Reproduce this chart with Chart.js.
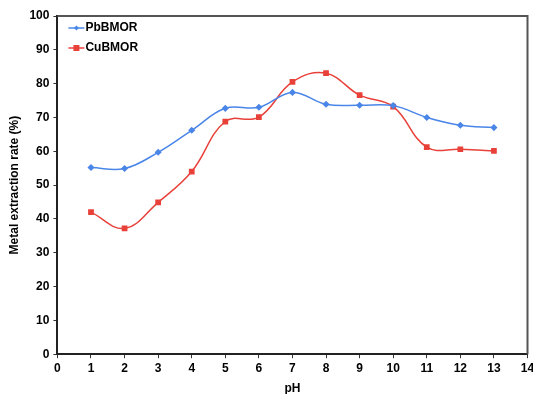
<!DOCTYPE html>
<html>
<head>
<meta charset="utf-8">
<script src="https://cdn.jsdelivr.net/npm/chart.js@4"></script>
<style>
  html, body { margin: 0; padding: 0; background: #fff; }
  #wrap { width: 533px; height: 394px; }
</style>
</head>
<body>
<div id="wrap"><canvas id="chart"></canvas></div>
<script>
// pH values and extraction rates
const phValues = [1, 2, 3, 4, 5, 6, 7, 8, 9, 10, 11, 12, 13];
const pbRates = [55.2, 54.9, 59.7, 66.2, 72.7, 73.0, 77.4, 73.9, 73.6, 73.5, 70.0, 67.7, 67.0];
const cuRates = [42.0, 37.2, 44.9, 54.0, 68.8, 70.1, 80.5, 83.1, 76.6, 73.2, 61.2, 60.6, 60.1];
const seriesNames = ['PbBMOR', 'CuBMOR'];

const FONT = 'Liberation Sans, Arial, sans-serif';

// border box on top/right + legend inside plot area
const framePlugin = {
    id: 'frame',
    afterDraw(chart) {
        const { ctx, chartArea } = chart;
        ctx.save();
        ctx.strokeStyle = '#555';
        ctx.lineWidth = 2;
        ctx.beginPath();
        ctx.moveTo(chartArea.left, chartArea.top);
        ctx.lineTo(chartArea.right, chartArea.top);
        ctx.lineTo(chartArea.right, chartArea.bottom);
        ctx.stroke();

        // legend
        chart.data.datasets.forEach((ds, i) => {
            const y = chartArea.top + 12 + i * 20;
            const x0 = chartArea.left + 11;
            ctx.strokeStyle = ds.borderColor;
            ctx.lineWidth = 1.5;
            ctx.beginPath();
            ctx.moveTo(x0, y);
            ctx.lineTo(x0 + 16, y);
            ctx.stroke();
            ctx.fillStyle = ds.borderColor;
            if (ds.pointStyle === 'rect') {
                ctx.fillRect(x0 + 5, y - 3, 6, 6);
            } else {
                ctx.beginPath();
                ctx.moveTo(x0 + 8, y - 2.5);
                ctx.lineTo(x0 + 10.5, y);
                ctx.lineTo(x0 + 8, y + 2.5);
                ctx.lineTo(x0 + 5.5, y);
                ctx.closePath();
                ctx.fill();
            }
            ctx.fillStyle = '#000';
            ctx.font = 'bold 12px ' + FONT;
            ctx.textBaseline = 'middle';
            ctx.fillText(ds.label, x0 + 17, y);
        });
        ctx.restore();
    }
};

const ctx = document.getElementById('chart').getContext('2d');
new Chart(ctx, {
    type: 'line',
    data: {
        datasets: [
            {
                label: seriesNames[0],
                data: phValues.map((x, i) => ({ x: x, y: pbRates[i] })),
                borderColor: '#4a86e8',
                backgroundColor: '#4a86e8',
                borderWidth: 1.5,
                pointStyle: 'rectRot',
                pointRadius: 2.5,
                tension: 0.4
            },
            {
                label: seriesNames[1],
                data: phValues.map((x, i) => ({ x: x, y: cuRates[i] })),
                borderColor: '#e8413a',
                backgroundColor: '#e8413a',
                borderWidth: 1.5,
                pointStyle: 'rect',
                pointRadius: 3,
                tension: 0.4
            }
        ]
    },
    options: {
        responsive: true,
        maintainAspectRatio: false,
        animation: false,
        layout: { padding: { top: 16, right: 4, bottom: 0, left: 7 } },
        scales: {
            x: {
                type: 'linear',
                min: 0,
                max: 14,
                // let the "14" label run off the edge like the original
                afterFit(scale) { scale.paddingRight = 0; },
                grid: {
                    drawOnChartArea: false,
                    tickLength: 4,
                    tickColor: '#333'
                },
                border: { color: '#222', width: 2 },
                ticks: {
                    stepSize: 1,
                    color: '#000',
                    font: { family: FONT, size: 12, weight: 'bold' },
                    padding: 3
                },
                title: {
                    display: true,
                    text: 'pH',
                    color: '#000',
                    font: { family: FONT, size: 12, weight: 'bold' },
                    padding: { top: 3, bottom: -2 }
                }
            },
            y: {
                min: 0,
                max: 100,
                grid: {
                    drawOnChartArea: false,
                    tickLength: 4,
                    tickColor: '#333'
                },
                border: { color: '#222', width: 2 },
                ticks: {
                    stepSize: 10,
                    color: '#000',
                    font: { family: FONT, size: 12, weight: 'bold' },
                    padding: 4
                },
                title: {
                    display: true,
                    text: 'Metal extraction rate (%)',
                    color: '#000',
                    font: { family: FONT, size: 12, weight: 'bold' },
                    padding: { top: 0, bottom: 4 }
                }
            }
        },
        plugins: {
            legend: { display: false },
            tooltip: { enabled: false }
        }
    },
    plugins: [framePlugin]
});
</script>
</body>
</html>
